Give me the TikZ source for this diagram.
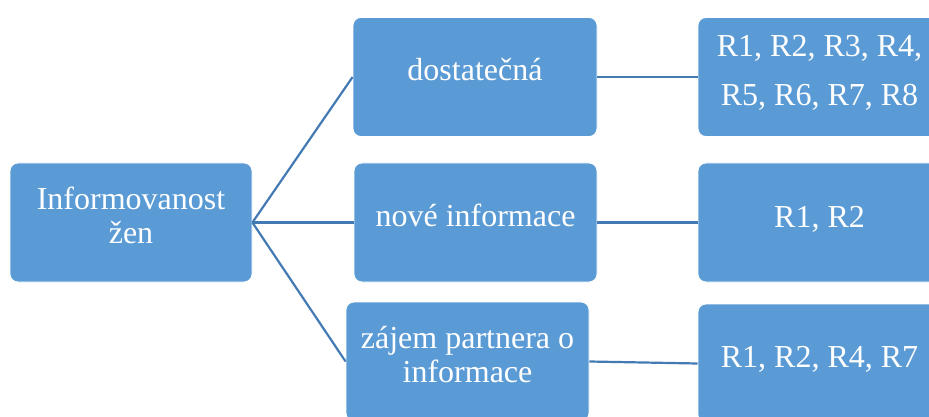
\documentclass[tikz,border=0pt]{standalone}
\usepackage{fontspec}
\setmainfont{Liberation Serif}
\definecolor{boxfill}{RGB}{91,155,213}
\definecolor{linkblue}{RGB}{68,122,180}
\begin{document}
\begin{tikzpicture}[x=1pt,y=-1pt,
  box/.style={draw=white, line width=0.8pt, fill=boxfill, rounded corners=8pt,
    inner sep=0pt, minimum width=243pt, minimum height=119pt},
  lbl/.style={text=white, font=\fontsize{32}{34}\selectfont, align=center,
    anchor=base, inner sep=0pt},
  link/.style={draw=linkblue, line width=2.2pt}]
\useasboundingbox (0,0) rectangle (929,417);
\clip (0,0) rectangle (929,417);

% root (base anchor sits on the last line's baseline)
\node[box, minimum width=242pt] (root) at (131,222.5) {};
\node[lbl] (rootT) at (131,243) {Informovanost\\žen};

% middle column
\node[box, minimum width=244pt] (m1) at (475,77) {};
\node[lbl] (m1T) at (475,81) {dostatečná};
\node[box] (m2) at (475.5,222.5) {};
\node[lbl] (m2T) at (475.5,226.5) {nové informace};
\node[box] (m3) at (467.5,361.5) {};
\node[lbl] (m3T) at (467.5,382) {zájem partnera o\\informace};

% right column
\node[box] (r1) at (819.5,77) {};
\node[lbl, font=\fontsize{32}{49}\selectfont] (r1T) at (819.5,106) {R1, R2, R3, R4,\\R5, R6, R7, R8};
\node[box] (r2) at (819.5,222.5) {};
\node[lbl] (r2T) at (819.5,227) {R1, R2};
\node[box] (r3) at (819.5,363.5) {};
\node[lbl] (r3T) at (819.5,367) {R1, R2, R4, R7};

% connectors
\draw[link] (root.east) -- (m1.west);
\draw[link] (root.east) -- (m2.west);
\draw[link] (root.east) -- (m3.west);
\draw[link] (m1.east) -- (r1.west);
\draw[link] (m2.east) -- (r2.west);
\draw[link] (m3.east) -- (r3.west);
\end{tikzpicture}
\end{document}
